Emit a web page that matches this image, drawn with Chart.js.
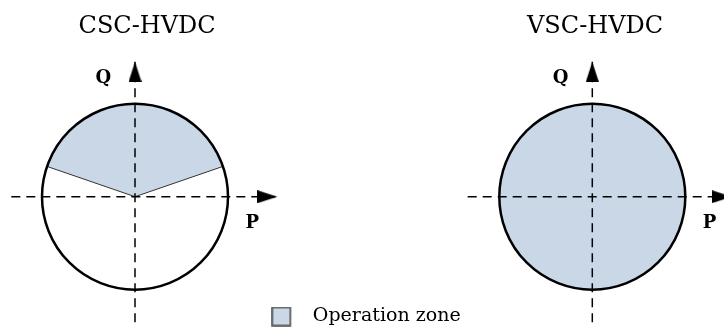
<!DOCTYPE html>
<html>
<head>
<meta charset="utf-8">
<script src="https://cdn.jsdelivr.net/npm/chart.js@4.4.0/dist/chart.umd.min.js"></script>
<style>
  html, body { margin: 0; background: #fff; }
  #wrap { width: 724px; height: 331px; }
</style>
</head>
<body>
<div id="wrap"><canvas id="out"></canvas></div>
<script>
// two P-Q capability diagrams, values in p.u.
const panelTitles = ["CSC-HVDC", "VSC-HVDC"];
const circleRadius = [1, 1];
const zoneFromDeg = [19, 0];      // operating sector, angle from +P axis
const zoneToDeg = [161, 360];
const pAxisFrom = [-1.33, -1.34];
const pAxisTo = [1.53, 1.50];
const qAxisFrom = [-1.35, -1.35];
const qAxisTo = [1.45, 1.45];
const legendLabel = "Operation zone";

const zoneColor = "rgb(201, 215, 231)";
const serif = "'DejaVu Serif', 'Liberation Serif', serif";
const xIds = ["xL", "xR"];
const titleShift = [0.13, 0.03];

function makeArrow() {
  // tip sits in the middle of the canvas so the point value is the tip
  const c = document.createElement("canvas");
  c.width = 40; c.height = 13;
  const g = c.getContext("2d");
  g.fillStyle = "#000";
  g.beginPath();
  g.moveTo(0, 0);
  g.lineTo(20, 6.5);
  g.lineTo(0, 13);
  g.closePath();
  g.fill();
  return c;
}

function makeSwatch() {
  const c = document.createElement("canvas");
  c.width = 32; c.height = 20;
  const g = c.getContext("2d");
  g.fillStyle = zoneColor;
  g.fillRect(1, 1, 18, 18);
  g.strokeStyle = "#444";
  g.lineWidth = 1.5;
  g.strokeRect(1, 1, 18, 18);
  return c;
}

const arrow = makeArrow();
const swatch = makeSwatch();

const datasets = [];
panelTitles.forEach((t, i) => {
  const common = {
    xAxisID: xIds[i],
    yAxisID: "y",
    borderColor: "#000",
    borderWidth: 1.5,
    borderDash: [9, 6],
    clip: false,
    pointStyle: ctx => ctx.dataIndex === 1 ? arrow : "circle",
    pointRadius: ctx => ctx.dataIndex === 1 ? 12 : 0,
    showLine: true
  };
  datasets.push(Object.assign({
    label: t + " P",
    data: [{x: pAxisFrom[i], y: 0}, {x: pAxisTo[i], y: 0}],
    pointRotation: 0
  }, common));
  datasets.push(Object.assign({
    label: t + " Q",
    data: [{x: 0, y: qAxisFrom[i]}, {x: 0, y: qAxisTo[i]}],
    pointRotation: -90
  }, common));
});

const zonePlugin = {
  id: "zones",
  geom(chart, i) {
    const xs = chart.scales[xIds[i]], ys = chart.scales.y;
    const cx = xs.getPixelForValue(0), cy = ys.getPixelForValue(0);
    const rx = xs.getPixelForValue(circleRadius[i]) - cx;
    const ry = cy - ys.getPixelForValue(circleRadius[i]);
    return {cx, cy, rx, ry};
  },
  beforeDatasetsDraw(chart) {
    const ctx = chart.ctx;
    panelTitles.forEach((t, i) => {
      const {cx, cy, rx, ry} = this.geom(chart, i);
      const a0 = -zoneToDeg[i] * Math.PI / 180;
      const a1 = -zoneFromDeg[i] * Math.PI / 180;
      const full = zoneToDeg[i] - zoneFromDeg[i] >= 360;
      ctx.save();
      ctx.fillStyle = zoneColor;
      ctx.beginPath();
      if (full) {
        ctx.ellipse(cx, cy, rx, ry, 0, 0, Math.PI * 2);
      } else {
        ctx.moveTo(cx, cy);
        ctx.ellipse(cx, cy, rx, ry, 0, a0, a1);
        ctx.closePath();
      }
      ctx.fill();
      if (!full) {
        ctx.strokeStyle = "#333";
        ctx.lineWidth = 1;
        ctx.beginPath();
        ctx.moveTo(cx + rx * Math.cos(a0), cy + ry * Math.sin(a0));
        ctx.lineTo(cx, cy);
        ctx.lineTo(cx + rx * Math.cos(a1), cy + ry * Math.sin(a1));
        ctx.stroke();
      }
      ctx.restore();
    });
  },
  afterDatasetsDraw(chart) {
    const ctx = chart.ctx;
    panelTitles.forEach((t, i) => {
      const {cx, cy, rx, ry} = this.geom(chart, i);
      ctx.save();
      ctx.strokeStyle = "#000";
      ctx.lineWidth = 2.5;
      ctx.beginPath();
      ctx.ellipse(cx, cy, rx, ry, 0, 0, Math.PI * 2);
      ctx.stroke();
      ctx.restore();
    });
  },
  afterDraw(chart) {
    const ctx = chart.ctx, ys = chart.scales.y;
    ctx.save();
    ctx.fillStyle = "#000";
    ctx.textAlign = "center";
    ctx.textBaseline = "alphabetic";
    panelTitles.forEach((t, i) => {
      const xs = chart.scales[xIds[i]];
      ctx.font = "24px " + serif;
      ctx.fillText(t, xs.getPixelForValue(titleShift[i]), ys.getPixelForValue(1.76));
      ctx.font = "bold 18px " + serif;
      ctx.fillText("Q", xs.getPixelForValue(-0.34), ys.getPixelForValue(1.22));
      ctx.fillText("P", xs.getPixelForValue(1.26), ys.getPixelForValue(-0.34));
    });
    ctx.restore();
  }
};

new Chart(document.getElementById("out"), {
  type: "scatter",
  data: {datasets},
  options: {
    responsive: true,
    maintainAspectRatio: false,
    animation: false,
    events: [],
    layout: {padding: {left: 8, bottom: -5}, autoPadding: false},
    scales: {
      xL: {type: "linear", position: "bottom", display: false, min: -1.3656, max: 6.3333},
      xR: {type: "linear", position: "bottom", display: false, min: -6.2828, max: 1.4161},
      y: {type: "linear", display: false, min: -1.1323, max: 2.1151}
    },
    plugins: {
      tooltip: {enabled: false},
      legend: {
        position: "bottom",
        onClick: null,
        labels: {
          usePointStyle: true,
          pointStyleWidth: 32,
          padding: 5,
          color: "#000",
          font: {family: serif, size: 19},
          generateLabels: () => [{
            text: legendLabel,
            pointStyle: swatch,
            fillStyle: zoneColor,
            strokeStyle: "#444",
            lineWidth: 1.5,
            hidden: false,
            datasetIndex: 0
          }]
        }
      }
    }
  },
  plugins: [zonePlugin]
});
</script>
</body>
</html>
